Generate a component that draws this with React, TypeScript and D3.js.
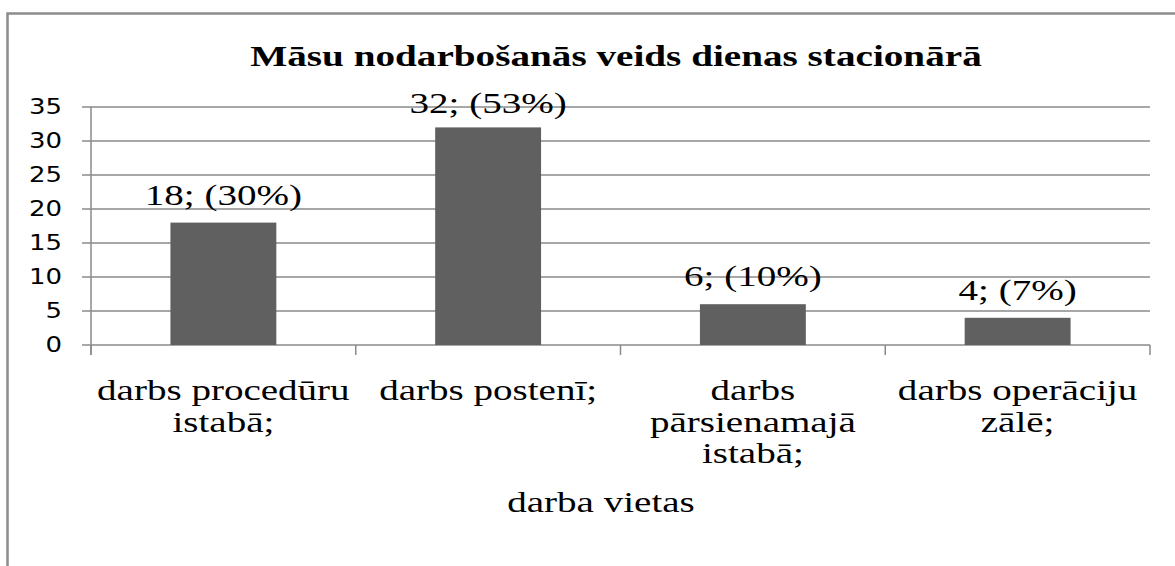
import * as d3 from 'd3';

const W = 1175;
const H = 566;
const SX = 1.37; // source image is stretched horizontally

const title = 'Māsu nodarbošanās veids dienas stacionārā';
const axisTitle = 'darba vietas';
const categories = [
  ['darbs procedūru', 'istabā;'],
  ['darbs postenī;'],
  ['darbs', 'pārsienamajā', 'istabā;'],
  ['darbs operāciju', 'zālē;'],
];
const counts = [18, 32, 6, 4];
const percents = [30, 53, 10, 7];
const yTicks = [0, 5, 10, 15, 20, 25, 30, 35];

const margin = { left: 91, right: 1150, top: 107, bottom: 345 };
const SERIF = '"Liberation Serif", "Times New Roman", serif';
const SANS = '"DejaVu Sans", Verdana, sans-serif';
const GRID = '#8a8a8a';

function StretchText(props: {
  x: number;
  y: number;
  sx?: number;
  children: string;
  size: number;
  family: string;
  weight?: string;
  anchor?: string;
  baseline?: string;
}) {
  const { x, y, sx = SX, children, size, family, weight = 'normal', anchor = 'middle', baseline } = props;
  return (
    <text
      transform={`translate(${x},${y}) scale(${sx},1)`}
      fontFamily={family}
      fontSize={size}
      fontWeight={weight}
      textAnchor={anchor}
      dominantBaseline={baseline}
      fill="#000"
    >
      {children}
    </text>
  );
}

export default function App() {
  const x = d3
    .scaleBand<number>()
    .domain(d3.range(counts.length))
    .range([margin.left, margin.right])
    .padding(0);
  const y = d3.scaleLinear().domain([0, 35]).range([margin.bottom, margin.top]);
  const barW = x.bandwidth() * 0.4;
  const boundaries = d3.range(counts.length + 1).map((i) => margin.left + i * x.step());

  return (
    <svg width={W} height={H} style={{ position: 'absolute', left: 0, top: 0, background: '#fff' }}>
      <rect x={7.5} y={13.5} width={1300} height={700} fill="#fff" stroke="#8c8c8c" strokeWidth={2.5} />

      <StretchText x={616} y={66} size={28.6} family={SERIF} weight="bold">
        {title}
      </StretchText>

      {/* gridlines + y ticks */}
      {yTicks.map((t) => (
        <g key={t}>
          <line x1={82} x2={margin.right} y1={y(t)} y2={y(t)} stroke={GRID} strokeWidth={1.5} />
          <StretchText x={62} y={y(t) + 1} sx={1.18} size={22} family={SANS} anchor="end" baseline="middle">
            {String(t)}
          </StretchText>
        </g>
      ))}
      <line x1={margin.left} x2={margin.left} y1={margin.top} y2={margin.bottom + 10} stroke={GRID} strokeWidth={1.5} />
      {boundaries.map((bx, i) => (
        <line key={i} x1={bx} x2={bx} y1={margin.bottom} y2={margin.bottom + 10} stroke={GRID} strokeWidth={1.5} />
      ))}

      {/* bars */}
      {counts.map((v, i) => {
        const cx = (x(i) ?? 0) + x.bandwidth() / 2;
        const top = y(v);
        return (
          <g key={i}>
            <rect x={cx - barW / 2} y={top} width={barW} height={y(0) - top} fill="#606060" />
            <StretchText x={cx} y={Math.max(top - 18, 113)} size={28.5} family={SERIF}>
              {`${v}; (${percents[i]}%)`}
            </StretchText>
          </g>
        );
      })}

      {/* category labels */}
      {categories.map((lines, i) => {
        const cx = (x(i) ?? 0) + x.bandwidth() / 2;
        return (
          <g key={i}>
            {lines.map((ln, j) => (
              <StretchText key={j} x={cx} y={400 + j * 31.5} size={28.5} family={SERIF}>
                {ln}
              </StretchText>
            ))}
          </g>
        );
      })}

      <StretchText x={601} y={512} size={28.5} family={SERIF}>
        {axisTitle}
      </StretchText>
    </svg>
  );
}
